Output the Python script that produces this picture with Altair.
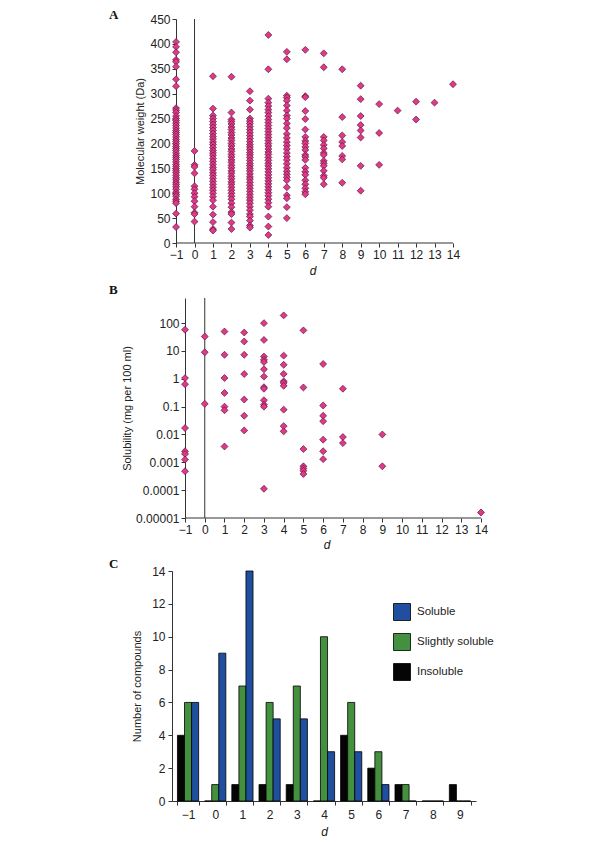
import altair as alt
import pandas as pd

FONT = "Liberation Sans"
PINK = "#e2388c"
PINK_STROKE = "#5a1836"

# ---------------- Panel A: molecular weight vs d ----------------
mw_m1 = [404, 394, 383, 368, 364, 354, 329, 315, 271, 267, 262, 255, 250, 246, 241, 236, 231, 226, 222, 218,
         213, 208, 204, 199, 194, 190, 186, 181, 176, 172, 168, 163, 158, 154, 149, 145, 141, 136, 131, 127,
         122, 118, 113, 108, 102, 98, 94, 88, 84, 80, 59, 32]
mw_0 = [185, 157, 153, 140, 114, 108, 100, 93, 84, 73, 61, 58, 43]
mw_1 = [335, 270, 256, 250, 244, 238, 232, 226, 220, 214, 209, 203, 198, 192, 186, 181, 176, 170, 164, 158,
        152, 147, 141, 136, 130, 124, 118, 112, 106, 100, 93, 86, 73, 57, 42, 28, 25]
mw_2 = [334, 262, 248, 244, 239, 233, 228, 222, 217, 211, 206, 200, 195, 189, 184, 178, 173, 167, 162, 156,
        151, 145, 140, 134, 129, 123, 118, 112, 106, 100, 94, 88, 80, 72, 62, 58, 41, 28]
mw_3 = [305, 286, 268, 250, 245, 240, 234, 228, 222, 216, 210, 204, 198, 193, 188, 182, 177, 172, 166, 160,
        155, 150, 145, 139, 133, 128, 122, 116, 110, 104, 98, 92, 86, 80, 73, 66, 58, 53, 45, 35, 31]
mw_4 = [418, 349, 290, 282, 275, 268, 262, 255, 248, 242, 236, 230, 224, 218, 212, 206, 200, 195, 189, 183,
        178, 172, 166, 160, 155, 149, 143, 137, 131, 125, 119, 113, 107, 101, 95, 88, 81, 73, 53, 33, 16]
mw_5 = [384, 369, 296, 292, 286, 276, 266, 256, 250, 240, 231, 219, 211, 203, 196, 189, 181, 174, 167, 159,
        151, 144, 138, 132, 126, 112, 96, 90, 72, 50]
mw_6 = [388, 295, 293, 265, 249, 228, 213, 205, 200, 193, 187, 177, 173, 167, 151, 143, 137, 126, 118, 110, 103, 98]
mw_7 = [381, 353, 213, 206, 197, 190, 181, 177, 165, 160, 155, 145, 135, 131, 118]
mw_8 = [349, 253, 216, 203, 195, 175, 168, 121]
mw_9 = [316, 289, 255, 237, 226, 212, 155, 105]
mw_10 = [279, 221, 157]
mw_11 = [266]
mw_12 = [284, 248]
mw_13 = [282]
mw_14 = [319]

mw_cols = {-1: mw_m1, 0: mw_0, 1: mw_1, 2: mw_2, 3: mw_3, 4: mw_4, 5: mw_5, 6: mw_6, 7: mw_7,
           8: mw_8, 9: mw_9, 10: mw_10, 11: mw_11, 12: mw_12, 13: mw_13, 14: mw_14}
df_a = pd.DataFrame([{"d": k, "mw": v} for k, vals in mw_cols.items() for v in vals])

# ---------------- Panel B: solubility vs d ----------------
sol_m1 = [58, 1.06, 0.64, 0.017, 0.0025, 0.002, 0.00125, 0.00048]
sol_0 = [33, 9, 0.126]
sol_1 = [50, 7.3, 1.07, 0.31, 0.1, 0.074, 0.0037]
sol_2 = [46, 22, 7.3, 1.48, 0.18, 0.047, 0.014]
sol_3 = [100, 25, 6.3, 4.8, 4, 2.2, 1.2, 0.5, 0.44, 0.17, 0.117, 0.1, 0.000112]
sol_4 = [190, 6.8, 3.2, 1.5, 0.81, 0.71, 0.56, 0.078, 0.02, 0.013]
sol_5 = [55, 0.49, 0.003, 0.00072, 0.0006, 0.0005, 0.00038]
sol_6 = [3.4, 0.11, 0.047, 0.03, 0.0065, 0.0025, 0.0013]
sol_7 = [0.44, 0.0081, 0.0049]
sol_9 = [0.01, 0.00072]
sol_14 = [0.0000158]

sol_cols = {-1: sol_m1, 0: sol_0, 1: sol_1, 2: sol_2, 3: sol_3, 4: sol_4, 5: sol_5, 6: sol_6,
            7: sol_7, 9: sol_9, 14: sol_14}
df_b = pd.DataFrame([{"d": k, "sol": v} for k, vals in sol_cols.items() for v in vals])

# ---------------- Panel C: counts ----------------
d_cats = ["-1", "0", "1", "2", "3", "4", "5", "6", "7", "8", "9"]
insoluble = [4, 0, 1, 1, 1, 0, 4, 2, 1, 0, 1]
slightly = [6, 1, 7, 6, 7, 10, 6, 3, 1, 0, 0]
soluble = [6, 9, 14, 5, 5, 3, 3, 1, 0, 0, 0]
classes = ["Soluble", "Slightly soluble", "Insoluble"]
class_colors = ["#1f4f9e", "#43903f", "#050505"]

rows = []
for i, d in enumerate(d_cats):
    rows.append({"d": d, "cls": "Insoluble", "n": insoluble[i]})
    rows.append({"d": d, "cls": "Slightly soluble", "n": slightly[i]})
    rows.append({"d": d, "cls": "Soluble", "n": soluble[i]})
df_c = pd.DataFrame(rows)

axis_common = dict(labelFont=FONT, labelFontSize=12, labelColor="#222", titleFont=FONT,
                   titleFontSize=11, titleFontWeight="normal", titleColor="#222",
                   domainColor="#333", tickColor="#333", tickSize=4, grid=False,
                   labelOverlap=False, labelFlush=False)


def panel_label(text, x, y):
    return alt.Chart(pd.DataFrame({"lab": [text]})).mark_text(
        align="left", baseline="middle", font="Liberation Serif", fontWeight="bold", fontSize=13,
        color="#111"
    ).encode(x=alt.value(x), y=alt.value(y), text="lab:N")


def zero_rule():
    return alt.Chart(pd.DataFrame({"d": [0]})).mark_rule(color="#333", strokeWidth=1).encode(x="d:Q")


def baseline_rule(ymin, yfield):
    df = pd.DataFrame({"x1": [-1], "x2": [14], yfield: [ymin]})
    return alt.Chart(df).mark_rule(color="#333", strokeWidth=1).encode(
        x="x1:Q", x2="x2:Q", y=f"{yfield}:Q")


d_ticks = list(range(-1, 15))

# Panel A chart (x scale starts a little left of -1 so the y axis sits at d = -1)
xa = alt.X("d:Q", scale=alt.Scale(domain=[-1.22, 14], nice=False, zero=False),
           axis=alt.Axis(values=d_ticks, tickCount=100, format="d", title="d", titleFontStyle="italic",
                         titleFontSize=12, domain=False, titlePadding=5, labelPadding=2,
                         **{k: v for k, v in axis_common.items() if k != "titleFontSize"}))
pts_a = alt.Chart(df_a).mark_point(shape="diamond", filled=True, size=48, fill=PINK, stroke=PINK_STROKE,
                                   strokeWidth=0.7, opacity=1).encode(
    x=xa,
    y=alt.Y("mw:Q", scale=alt.Scale(domain=[0, 450], nice=False),
            axis=alt.Axis(values=list(range(0, 451, 50)), tickCount=100, format="d",
                          title="Molecular weight (Da)", offset=-4, titlePadding=4, labelPadding=2,
                          **axis_common)),
)
chart_a = alt.layer(baseline_rule(0, "mw"), zero_rule(), pts_a, panel_label("A", -63, -4)).properties(
    width=281, height=224)

# Panel B chart
pts_b = alt.Chart(df_b).mark_point(shape="diamond", filled=True, size=48, fill=PINK, stroke=PINK_STROKE,
                                   strokeWidth=0.7, opacity=1).encode(
    x=alt.X("d:Q", scale=alt.Scale(domain=[-1.66, 14], nice=False, zero=False),
            axis=alt.Axis(values=d_ticks, tickCount=100, format="d", title="d", titleFontStyle="italic",
                          titleFontSize=12, domain=False, titlePadding=4, labelPadding=2,
                          **{k: v for k, v in axis_common.items() if k != "titleFontSize"})),
    y=alt.Y("sol:Q", scale=alt.Scale(type="log", domain=[0.00001, 800], nice=False),
            axis=alt.Axis(values=[0.00001, 0.0001, 0.001, 0.01, 0.1, 1, 10, 100], tickCount=100,
                          format=".5~f", title="Solubility (mg per 100 ml)", offset=-13, titlePadding=3,
                          labelPadding=2, **axis_common)),
)
chart_b = alt.layer(baseline_rule(0.00001, "sol"), zero_rule(), pts_b, panel_label("B", -63, -8)).properties(
    width=309, height=220)

# Panel C chart
bars = alt.Chart(df_c).mark_bar(stroke="#000", strokeWidth=0.8).encode(
    x=alt.X("d:N", sort=d_cats, scale=alt.Scale(paddingInner=0.22, paddingOuter=0.2),
            axis=alt.Axis(title="d", titleFontStyle="italic", titleFontSize=12, labelAngle=0,
                          tickBand="extent", labelExpr="replace(datum.label, '-', '\u2212')",
                          titlePadding=6, labelPadding=4,
                          **{k: v for k, v in axis_common.items() if k != "titleFontSize"})),
    xOffset=alt.XOffset("cls:N", sort=["Insoluble", "Slightly soluble", "Soluble"]),
    y=alt.Y("n:Q", scale=alt.Scale(domain=[0, 14], nice=False),
            axis=alt.Axis(values=list(range(0, 15, 2)), tickCount=100, format="d",
                          title="Number of compounds", titlePadding=9, labelPadding=3, **axis_common)),
    color=alt.Color("cls:N", scale=alt.Scale(domain=classes, range=class_colors),
                    legend=alt.Legend(orient="none", legendX=221, legendY=584, title=None,
                                      symbolType="square", symbolSize=289, symbolStrokeColor="#000",
                                      symbolStrokeWidth=0.8, symbolOpacity=1, labelFont=FONT,
                                      labelFontSize=11.5, labelColor="#222", rowPadding=8,
                                      labelOffset=6)),
)
chart_c = alt.layer(bars, panel_label("C", -63, -7)).properties(width=304, height=230)

chart = alt.concat(chart_a, chart_b, chart_c, columns=1, spacing=8).properties(
    padding={"left": 101, "top": 1, "right": 5, "bottom": 5},
).configure_view(stroke=None)

chart.save("out.html", embed_options={"renderer": "svg", "actions": False})
